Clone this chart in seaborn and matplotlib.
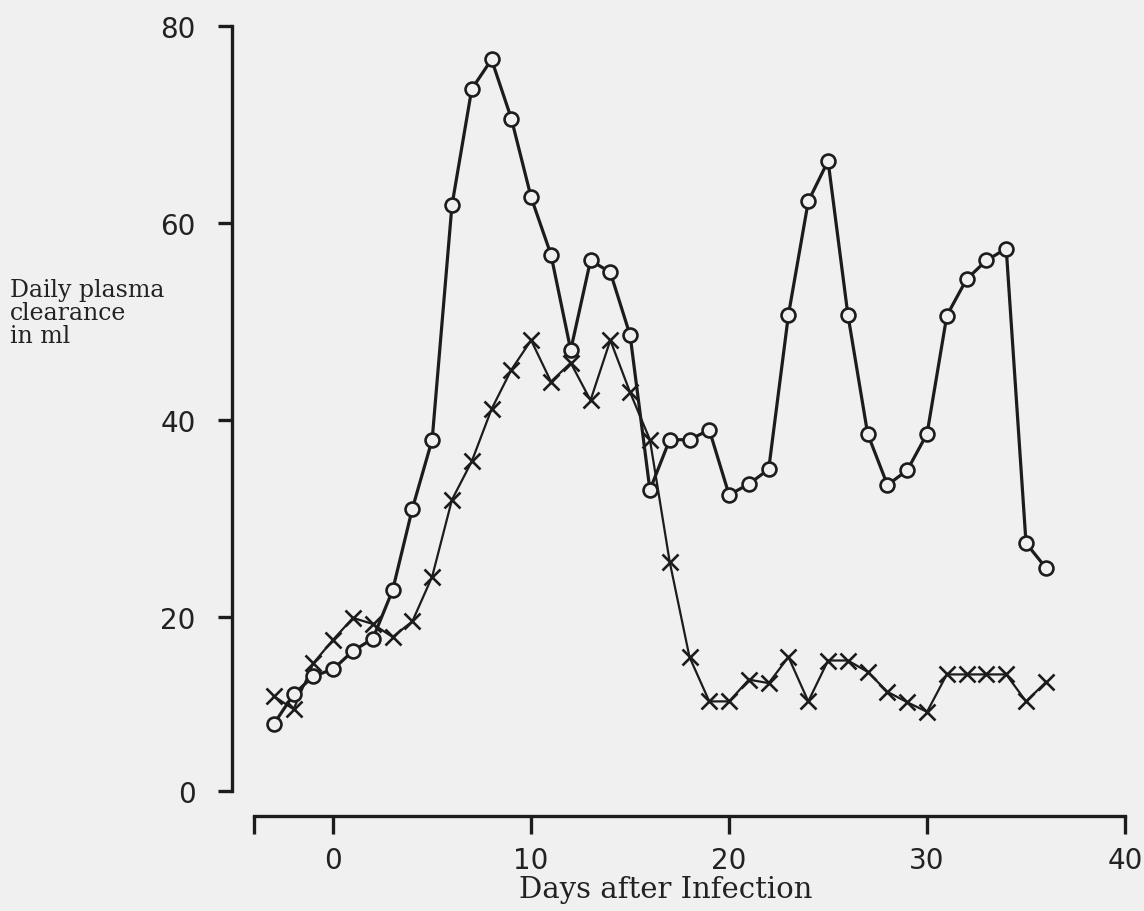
import numpy as np
import pandas as pd
import matplotlib
matplotlib.use("Agg")
import matplotlib.pyplot as plt
import seaborn as sns

# ---- data ----
days = list(range(-3, 37))
circle_vals = [7.7, 11.1, 13.2, 14.0, 16.1, 17.5, 22.7, 31.0, 38.0, 61.8,
               73.6, 76.6, 70.6, 62.6, 56.8, 47.1, 56.2, 55.0, 48.6, 32.9,
               38.0, 38.0, 39.0, 32.4, 33.5, 35.0, 50.7, 62.2, 66.3, 50.7,
               38.6, 33.4, 34.9, 38.6, 50.6, 54.3, 56.2, 57.4, 27.5, 25.0]
cross_vals = [10.9, 9.4, 14.7, 17.4, 19.9, 19.2, 17.7, 19.5, 24.1, 31.9,
              35.8, 41.1, 45.1, 48.1, 43.9, 45.8, 42.0, 48.1, 42.8, 38.0,
              25.6, 15.4, 10.3, 10.3, 12.8, 12.4, 15.4, 10.3, 15.0, 15.0,
              13.7, 11.4, 10.2, 9.1, 13.4, 13.4, 13.4, 13.4, 10.3, 12.5]
x_ticks = [0, 10, 20, 30, 40]
x_tick_labels = ["0", "10", "20", "30", "40"]
y_ticks = [0, 20, 40, 60, 80]
y_tick_labels = ["0", "20", "40", "60", "80"]
x_label = "Days after Infection"
y_label = "Daily plasma\nclearance\nin ml"

bg = "#f0f0f0"
ink = "#1c1c1c"

sns.set_theme(style="ticks")
plt.rcParams["font.family"] = ["DejaVu Sans"]

fig = plt.figure(figsize=(11.44, 9.12), dpi=100, facecolor=bg)
ax = fig.add_axes([254 / 1144, 120 / 912, 871 / 1144, 765 / 912])
ax.set_facecolor(bg)

# the printed axis is slightly compressed below 20
r = 0.8832
def fwd(v):
    v = np.asarray(v, dtype=float)
    return np.where(v < 20, 20 - (20 - v) * r, v)
def inv(u):
    u = np.asarray(u, dtype=float)
    return np.where(u < 20, 20 - (20 - u) / r, u)
ax.set_yscale("function", functions=(fwd, inv))

df = pd.DataFrame({"day": days, "circle": circle_vals, "cross": cross_vals})

sns.lineplot(data=df, x="day", y="cross", ax=ax, color=ink, lw=1.6,
             marker="x", markersize=11, markeredgewidth=1.9,
             markeredgecolor=ink, zorder=2)
sns.lineplot(data=df, x="day", y="circle", ax=ax, color=ink, lw=2.3,
             marker="o", markersize=10, markerfacecolor=bg,
             markeredgecolor=ink, markeredgewidth=1.9, zorder=3)

ax.set_xlim(-4, 40)
ax.set_ylim(0, 80)

sns.despine(ax=ax)
ax.spines["left"].set_position(("outward", 16))
ax.spines["bottom"].set_position(("outward", 18))
ax.spines["left"].set_bounds(0, 80)
ax.spines["bottom"].set_bounds(-4, 40)
for s in ("left", "bottom"):
    ax.spines[s].set_linewidth(2.4)
    ax.spines[s].set_color(ink)

ax.set_xticks(x_ticks)
ax.set_xticklabels(x_tick_labels)
ax.set_xticks([-4], minor=True)
ax.set_yticks(y_ticks)
ax.set_yticklabels(y_tick_labels)

ax.tick_params(axis="y", which="major", direction="out", length=10, width=2.4,
               pad=16, labelsize=20, color=ink, labelcolor="#222222")
ax.tick_params(axis="x", which="both", direction="out", length=13, width=2.4,
               pad=8.5, labelsize=20, color=ink, labelcolor="#222222")

ax.set_xlabel(x_label, fontsize=21, family="DejaVu Serif", color="#222222")
ax.xaxis.set_label_coords(0.473, -0.128)
ax.xaxis.label.set_va("center")

ax.set_ylabel(y_label, rotation=0, ha="left", va="center", fontsize=17,
              family="DejaVu Serif", color="#222222", linespacing=1.0,
              multialignment="left")
ax.yaxis.set_label_coords(-0.280, 0.625)

fig.savefig("out.png", dpi=100, facecolor=bg)
